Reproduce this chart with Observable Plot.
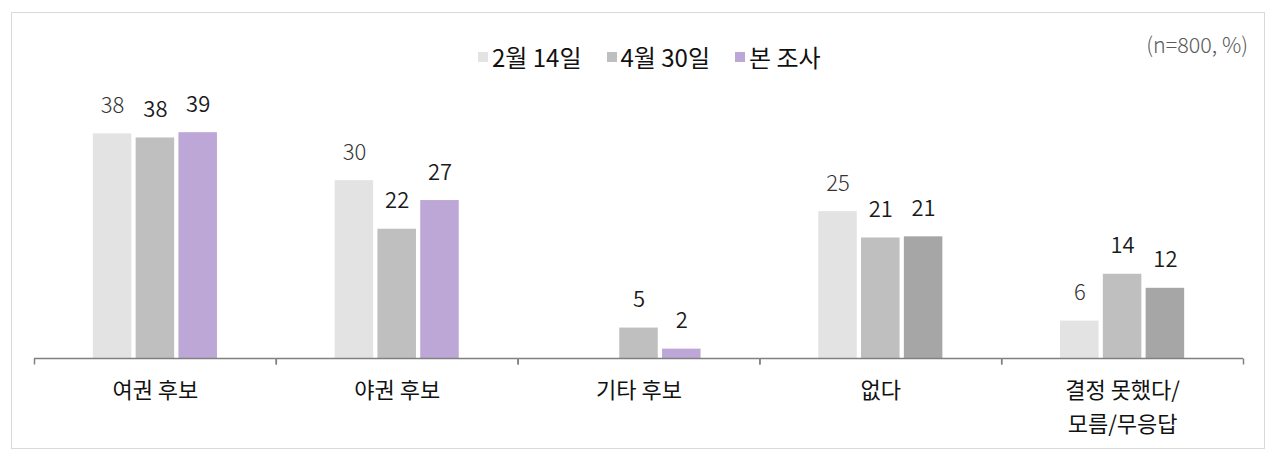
<!DOCTYPE html>
<html>
<head>
<meta charset="utf-8">
<script src="https://cdn.jsdelivr.net/npm/d3@7"></script>
<script src="https://cdn.jsdelivr.net/npm/@observablehq/plot@0.6"></script>
<style>
  html, body { margin: 0; padding: 0; background: #fff; }
  body { font-family: "Noto Sans CJK KR", "Noto Sans", sans-serif; }
  #wrap { position: relative; width: 1280px; height: 462px; overflow: hidden; }
  #frame { position: absolute; left: 11px; top: 12px; width: 1254px; height: 437px;
           border: 1.5px solid #d9d9d9; box-sizing: border-box; }
  #legend { position: absolute; left: 478px; top: 42px; display: flex; align-items: center;
            font-size: 24px; font-weight: 400; color: #111111; line-height: 30px; white-space: nowrap; }
  .item { display: flex; align-items: center; margin-right: 25px; }
  .sw { width: 10px; height: 10px; margin-right: 4px; display: inline-block; }
  #note { position: absolute; right: 32px; top: 29px; font-size: 21.5px; font-weight: 300;
          color: #595959; line-height: 30px; }
  #chart { position: absolute; left: 0; top: 0; }
</style>
</head>
<body>
<div id="wrap">
  <div id="frame"></div>
  <div id="chart"></div>
  <div id="legend"></div>
  <div id="note"></div>
</div>
<script>
// ---- data ----
const categories = ["여권 후보", "야권 후보", "기타 후보", "없다", "결정 못했다/모름/무응답"];
const categoryLabels = ["여권 후보", "야권 후보", "기타 후보", "없다", "결정 못했다/\n모름/무응답"];
const series = ["2월 14일", "4월 30일", "본 조사"];
const feb14 = [38.4, 30.4, null, 25.1, 6.4];
const apr30 = [37.7, 22.1, 5.2, 20.6, 14.4];
const current = [38.6, 27.0, 1.6, 20.8, 12.0];
const note = "(n=800, %)";

// ---- styles ----
const seriesColors = ["#e3e3e3", "#bfbfbf", "#bca7d6"];
const neutralColor = "#a6a6a6";            // 본 조사 bar for non-candidate answers
const neutralCategories = ["없다", "결정 못했다/모름/무응답"];
const FONT = '"Noto Sans CJK KR", "Noto Sans", sans-serif';

const valuesBySeries = [feb14, apr30, current];
const rows = [];
series.forEach((s, si) => {
  categories.forEach((c, ci) => {
    rows.push({category: c, series: s, value: valuesBySeries[si][ci]});
  });
});
const present = rows.filter(d => d.value != null);

function colorFor(d) {
  const si = series.indexOf(d.series);
  if (si === 2 && neutralCategories.includes(d.category)) return neutralColor;
  return seriesColors[si];
}

const tickSymbol = {draw(context) { context.moveTo(0, 0); context.lineTo(0, 6); }};

const chart = Plot.plot({
  width: 1280,
  height: 462,
  marginTop: 124,
  marginBottom: 104,
  marginLeft: 34,
  marginRight: 37,
  style: {fontFamily: FONT, background: "transparent", overflow: "visible"},
  fx: {domain: categories, padding: 0, axis: null, round: false},
  x: {domain: series, paddingInner: 0.1, paddingOuter: 1.375, axis: null, round: false},
  y: {domain: [0, 40], axis: null},
  color: {type: "identity"},
  marks: [
    Plot.barY(present, {fx: "category", x: "series", y: "value", fill: colorFor}),
    Plot.ruleY([0], {stroke: "#808080", strokeWidth: 1.5}),
    Plot.dot([0], {frameAnchor: "bottom-left", symbol: tickSymbol, fill: "none", stroke: "#808080", strokeWidth: 1.5}),
    Plot.dot([0], {frameAnchor: "bottom-right", symbol: tickSymbol, fill: "none", stroke: "#808080", strokeWidth: 1.5}),
    Plot.text(present.filter(d => d.series === series[0]), {
      fx: "category", x: "series", y: "value", text: d => Math.round(d.value),
      lineAnchor: "bottom", dy: -21, fontSize: 22, fontWeight: 300, fill: "#333333"
    }),
    Plot.text(present.filter(d => d.series !== series[0]), {
      fx: "category", x: "series", y: "value", text: d => Math.round(d.value),
      lineAnchor: "bottom", dy: -21, fontSize: 22, fontWeight: 350, fill: "#1a1a1a"
    }),
    Plot.text(categories, {
      fx: d => d, text: (d, i) => categoryLabels[i], frameAnchor: "bottom",
      lineAnchor: "top", dy: 15, fontSize: 22, fontWeight: 400, lineHeight: 1.55, fill: "#111111"
    })
  ]
});
document.getElementById("chart").appendChild(chart);

// legend
const legend = document.getElementById("legend");
series.forEach((s, i) => {
  const item = document.createElement("div");
  item.className = "item";
  const sw = document.createElement("span");
  sw.className = "sw";
  sw.style.background = seriesColors[i];
  const t = document.createElement("span");
  t.textContent = s;
  item.appendChild(sw);
  item.appendChild(t);
  legend.appendChild(item);
});
document.getElementById("note").textContent = note;
</script>
</body>
</html>
